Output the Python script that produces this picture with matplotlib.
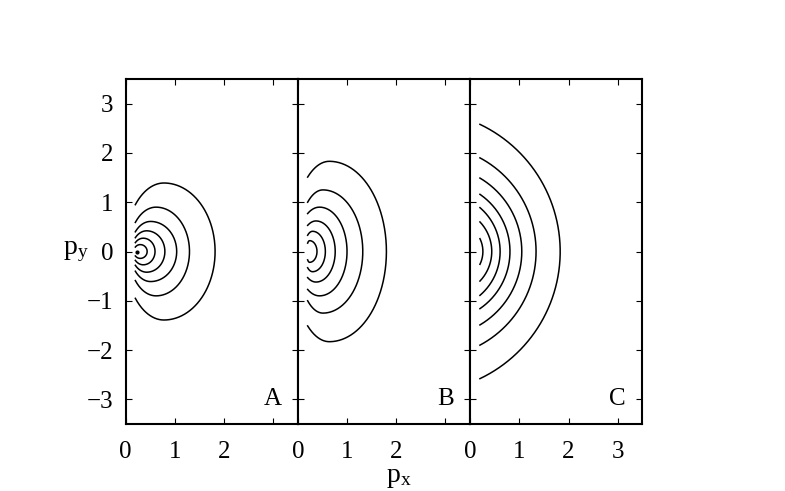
import numpy as np
import matplotlib
matplotlib.use('Agg')
import matplotlib.pyplot as plt

plt.rcParams['font.family'] = ['Liberation Serif', 'DejaVu Serif']
plt.rcParams['mathtext.fontset'] = 'custom'
plt.rcParams['mathtext.rm'] = 'Liberation Serif'
plt.rcParams['mathtext.it'] = 'Liberation Serif:italic'

# contornos (px donde cruza py=0, punto mas alto, extremo izquierdo)
x_start = 0.2

a_xmax = [1.82, 1.30, 1.04, 0.80, 0.60, 0.44]
a_xtop = [0.78, 0.62, 0.51, 0.43, 0.36, 0.30]
a_ytop = [1.39, 0.90, 0.61, 0.42, 0.27, 0.14]
a_yend = [0.95, 0.59, 0.40, 0.28, 0.18, 0.09]
a_dot = [0.24, 0.0]

b_xmax = [1.80, 1.32, 1.00, 0.76, 0.56, 0.39]
b_xtop = [0.64, 0.51, 0.44, 0.37, 0.30, 0.24]
b_ytop = [1.83, 1.25, 0.90, 0.62, 0.41, 0.22]
b_yend = [1.51, 1.00, 0.77, 0.53, 0.33, 0.17]

# panel C: arcos de circulo, solo se ve el extremo izquierdo
c_xmax = [1.83, 1.34, 1.05, 0.81, 0.61, 0.44, 0.26]
c_yend = [2.58, 1.90, 1.49, 1.16, 0.89, 0.60, 0.26]

panel_labels = ['A', 'B', 'C']
yticks = [-3, -2, -1, 0, 1, 2, 3]
xticks = [0, 1, 2, 3]


def egg_curve(xm, xt, yt, ye, x0=x_start):
    ar = xm - xt
    b = yt
    al = (xt - x0) / np.sqrt(1 - (ye / b) ** 2)
    t_end = np.pi - np.arccos((xt - x0) / al)
    t = np.linspace(-t_end, t_end, 400)
    a = np.where(np.cos(t) >= 0, ar, al)
    return xt + a * np.cos(t), b * np.sin(t)


def circle_curve(xm, ye, x0=x_start):
    cx = (xm ** 2 - x0 ** 2 - ye ** 2) / (2 * (xm - x0))
    r = xm - cx
    t_end = np.arccos((x0 - cx) / r)
    t = np.linspace(-t_end, t_end, 400)
    return cx + r * np.cos(t), r * np.sin(t)


fig = plt.figure(figsize=(7.85, 4.91), dpi=100)
left = 125.5 / 785
w = 172.3 / 785
bottom = 1 - 424 / 491
h = 345 / 491

axes = []
for i in range(3):
    ax = fig.add_axes([left + i * w, bottom, w, h])
    ax.set_xlim(0, 3.5)
    ax.set_ylim(-3.5, 3.5)
    ax.set_xticks(xticks)
    ax.set_yticks(yticks)
    ax.tick_params(direction='in', top=True, right=True, length=4, width=0.8,
                   labelsize=18, pad=9)
    ax.tick_params(axis='x', pad=12)
    for s in ax.spines.values():
        s.set_linewidth(1.5)
    if i < 2:
        ax.set_xticklabels(['0', '1', '2', ''])
    if i > 0:
        ax.set_yticklabels([])
    ax.text(3.0, -3.0, panel_labels[i], ha='center', va='center', fontsize=18)
    axes.append(ax)

for xm, xt, yt, ye in zip(a_xmax, a_xtop, a_ytop, a_yend):
    x, y = egg_curve(xm, xt, yt, ye)
    axes[0].plot(x, y, color='black', lw=1.1)
axes[0].plot([a_dot[0]], [a_dot[1]], 'o', color='black', ms=2)

for xm, xt, yt, ye in zip(b_xmax, b_xtop, b_ytop, b_yend):
    x, y = egg_curve(xm, xt, yt, ye)
    axes[1].plot(x, y, color='black', lw=1.1)

for xm, ye in zip(c_xmax, c_yend):
    x, y = circle_curve(xm, ye)
    axes[2].plot(x, y, color='black', lw=1.1)

fig.text(76 / 785, 1 - 252 / 491, r'$\mathrm{p_y}$', fontsize=20, ha='center', va='center')
fig.text(399 / 785, 1 - 478 / 491, r'$\mathrm{p_x}$', fontsize=20, ha='center', va='center')

fig.savefig('out.png', dpi=100)
